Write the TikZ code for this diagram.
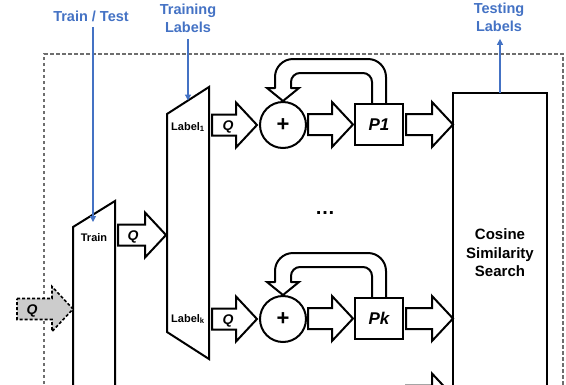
\documentclass[tikz,border=0pt]{standalone}
\usepackage{fontspec}
\setmainfont{Liberation Sans}
\usetikzlibrary{calc,arrows.meta}

\definecolor{lblblue}{RGB}{68,114,196}
\definecolor{framegray}{RGB}{110,110,110}
\definecolor{qfill}{RGB}{204,204,204}

\tikzset{
  blk/.style={draw=black, line width=2pt},
  note/.style={text=lblblue, font=\bfseries\fontsize{14.5}{18}\selectfont, align=center},
  pointer/.style={draw=lblblue, line width=1.2pt, -{Triangle[width=6pt,length=6pt]}},
  boxlabel/.style={font=\bfseries\fontsize{11}{13}\selectfont, inner sep=0pt},
  qlabel/.style={font=\bfseries\itshape\fontsize{14}{16}\selectfont, inner sep=0pt},
  adder/.style={blk, circle, minimum size=46pt, inner sep=0pt, outer sep=0pt,
    font=\bfseries\fontsize{22}{22}\selectfont},
  proc/.style={blk, rectangle, minimum width=48pt, minimum height=41pt, inner sep=0pt,
    outer sep=0pt, font=\bfseries\itshape\fontsize{17}{17}\selectfont},
  flow/.style={blk, fill=white, line join=miter},
  inflow/.style={draw=black, line width=1.6pt, dash pattern=on 3pt off 2pt, fill=qfill},
  outline/.style={draw=framegray, line width=1.2pt, dash pattern=on 3.5pt off 2.5pt},
}

% block arrow from a start point to a tip point (same height)
\newcommand\blockarrow[3][flow]{%
  \draw[#1] let \p1=(#2), \p2=(#3) in
    (\x1,{\y2+10.5pt}) -- ({\x2-21pt},{\y2+10.5pt}) -- ({\x2-21pt},{\y2+22.5pt})
    -- (\x2,\y2) -- ({\x2-21pt},{\y2-22.5pt}) -- ({\x2-21pt},{\y2-10.5pt})
    -- (\x1,{\y2-10.5pt}) -- cycle;}

% hollow feedback arrow from a processor back into its adder
\newcommand\loopback[2]{%
  \draw[blk, rounded corners=18pt]
    ($(#1.north)+(7,0)$) -- ($(#1.north)+(7,-45)$)
    -- ($(#2.north |- #1.north)+(-8,-45)$) -- ($(#2.north)+(-8,-14)$);
  \draw[blk, rounded corners=9pt]
    ($(#1.north)+(-7,0)$) -- ($(#1.north)+(-7,-31)$)
    -- ($(#2.north |- #1.north)+(8,-31)$) -- ($(#2.north)+(8,-14)$);
  \draw[blk, line cap=round]
    ($(#2.north)+(-8,-14)$) -- ($(#2.north)+(-16,-14)$) -- ($(#2.north)+(0,-1)$)
    -- ($(#2.north)+(16,-14)$) -- ($(#2.north)+(8,-14)$);}

\begin{document}
\begin{tikzpicture}[x=1pt, y=-1pt]
\useasboundingbox (0,0) rectangle (566,384);
\clip (0,0) rectangle (566,384);

% dashed system boundary
\draw[outline] (44,420) -- (44,54) -- (563,54) -- (563,420);

% train selector
\coordinate (ttl) at (73,227);
\coordinate (ttr) at (115,201);
\draw[blk, line join=miter] (73,420) -- (ttl) -- (ttr) -- (115,420);
\node[boxlabel] (train) at (94,238) {Train};

% label selector
\coordinate (ltl) at (167,114);
\coordinate (ltr) at (209,87);
\coordinate (lbr) at (209,359);
\coordinate (lbl) at (167,332);
\draw[blk, line join=miter] (lbl) -- (ltl) -- (ltr) -- (lbr) -- cycle;
\node[boxlabel] (lab1) at (188,127) {Label\textsubscript{1}};
\node[boxlabel] (labk) at (188,319) {Label\textsubscript{k}};

% adders and processors
\node[adder] (s1) at (283,125) {+};
\node[adder] (sk) at (283,319) {+};
\node[proc] (p1) at (379,124.5) {P1};
\node[proc] (pk) at (379,318.5) {Pk};

% similarity search
\node[blk, minimum width=94pt, minimum height=320pt, inner sep=0pt, outer sep=0pt,
  align=center, font=\bfseries\fontsize{15}{18.5}\selectfont] (cos) at (500,253)
  {Cosine\\Similarity\\Search};

\node[font=\bfseries\fontsize{20}{20}\selectfont, anchor=base] (dots) at (325,214) {…};

% input query
\coordinate (qin) at (17,309);
\blockarrow[inflow]{qin}{ttl |- qin}
\node[qlabel] (qa) at ($(qin)+(15,2)$) {Q};

% train -> label selector
\coordinate (tq) at (118,235);
\blockarrow{tq}{$(ltl |- tq)+(-1,0)$}
\node[qlabel] (qb) at ($(tq)+(15,2)$) {Q};

% label -> adder
\coordinate (q1) at ($(ltr |- s1.west)+(3,0)$);
\coordinate (qk) at ($(ltr |- sk.west)+(3,0)$);
\blockarrow{q1}{$(s1.west)+(-3,0)$}
\blockarrow{qk}{$(sk.west)+(-3,0)$}
\node[qlabel] (qc) at ($(q1)+(16,1.5)$) {Q};
\node[qlabel] (qd) at ($(qk)+(16,1.5)$) {Q};

% adder -> processor
\blockarrow{$(s1.east)+(2,0)$}{$(p1.west)+(-2,0)$}
\blockarrow{$(sk.east)+(2,0)$}{$(pk.west)+(-2,0)$}

% processor -> similarity search
\blockarrow{$(p1.east)+(3,0)$}{cos.west |- p1.east}
\blockarrow{$(pk.east)+(3,0)$}{cos.west |- pk.east}
\coordinate (pn) at (406,396);
\blockarrow{pn}{cos.west |- pn}

% feedback loops
\loopback{p1}{s1}
\loopback{pk}{sk}

% annotations
\node[note] (tt) at (91,16) {Train / Test};
\node[note] (tl) at (188,18) {Training\\Labels};
\node[note] (tsl) at (499,17) {Testing\\Labels};
\draw[pointer] ($(tt.south)+(2,2)$) -- ($(tt.south |- ttl)+(2,-5)$);
\draw[pointer] ($(tl.south)+(0,3)$) -- ($(ltl)!0.5!(ltr)$);
\draw[pointer] (cos.north) -- ($(cos.north |- tsl.south)+(0,4)$);
\end{tikzpicture}
\end{document}
